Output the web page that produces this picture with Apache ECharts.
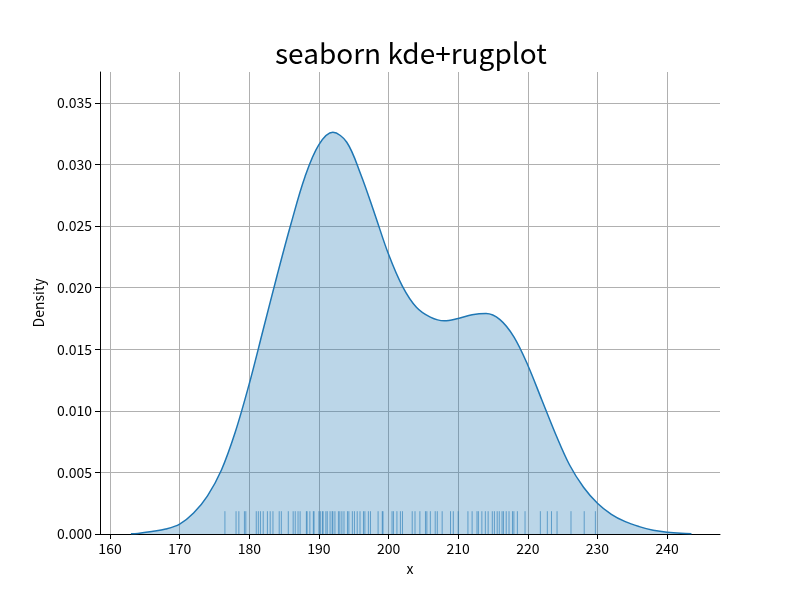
<!DOCTYPE html>
<html>
<head>
<meta charset="utf-8">
<title>seaborn kde+rugplot</title>
<script src="https://cdn.jsdelivr.net/npm/echarts@6/dist/echarts.min.js"></script>
<style>
  html, body { margin: 0; padding: 0; background: #fff; }
</style>
</head>
<body>
<div id="chart-container" style="width: 800px; height: 600px"></div>
<script>
// kde curve (every 2 units)
const kdeX = [163, 164, 166, 168, 170, 172, 174, 176, 178, 180, 182, 184, 186, 188,
  190, 192, 194, 196, 198, 200, 202, 204, 206, 208, 210, 212, 214, 216, 218, 220,
  222, 224, 226, 228, 230, 232, 234, 236, 238, 240, 242, 243.5];
const kdeY = [0.00003, 0.00005, 0.0002, 0.0004, 0.0008, 0.0017, 0.0031, 0.0052, 0.0083,
  0.0122, 0.0166, 0.0210, 0.0252, 0.0290, 0.0316, 0.0326, 0.0318, 0.0292, 0.0260,
  0.0227, 0.0201, 0.0184, 0.0176, 0.0173, 0.0175, 0.0178, 0.0179, 0.0174, 0.0160,
  0.0137, 0.0109, 0.0081, 0.0056, 0.0038, 0.0025, 0.0016, 0.0010, 0.0006, 0.0003,
  0.00015, 0.00006, 0.00003];

// rug observations
const rugX = [176.5, 178.1, 178.5, 179.3, 179.5, 181.0, 181.3, 181.6, 182.0, 182.6,
  183.0, 183.4, 184.3, 184.6, 185.6, 186.3, 186.6, 187.0, 187.3, 188.2, 188.3, 188.7,
  189.2, 189.3, 190.0, 190.2, 190.5, 190.6, 191.0, 191.2, 191.6, 191.9, 192.0, 192.3,
  192.8, 193.0, 193.3, 193.6, 194.1, 194.3, 194.8, 195.1, 195.5, 195.9, 196.4, 196.6,
  197.1, 197.4, 198.5, 199.1, 199.2, 200.5, 200.7, 201.2, 201.7, 202.0, 203.4, 203.8,
  204.5, 205.3, 205.5, 206.0, 206.7, 207.0, 207.7, 208.9, 209.3, 210.0, 211.4, 212.0,
  212.7, 212.9, 213.4, 213.9, 214.3, 214.9, 215.2, 215.6, 215.9, 216.3, 216.5, 216.9,
  217.3, 217.8, 218.0, 218.5, 219.6, 221.8, 222.8, 223.4, 224.2, 226.2, 228.1, 229.7];
const rugHeight = 0.00185;

const xTicks = [160, 170, 180, 190, 200, 210, 220, 230, 240];
const yTicks = [0, 0.005, 0.01, 0.015, 0.02, 0.025, 0.03, 0.035];

const blue = "#1f77b4";
const font = "Noto Sans CJK SC";

const myChart = echarts.init(document.getElementById("chart-container"));

const option = {
  animation: false,
  title: {
    text: "seaborn kde+rugplot",
    left: 270,
    top: 34,
    textStyle: { fontFamily: font, fontSize: 28, fontWeight: "normal", color: "#000" },
  },
  grid: { left: 100, right: 80, top: 72, bottom: 66 },
  xAxis: {
    type: "value",
    min: 158.56,
    max: 247.6,
    name: "x",
    nameLocation: "middle",
    nameGap: 28,
    nameTextStyle: { fontFamily: font, fontSize: 14, color: "#000" },
    axisLine: { onZero: false, lineStyle: { color: "#000", width: 1 } },
    axisTick: { length: 5, lineStyle: { color: "#000" }, customValues: xTicks },
    axisLabel: { fontFamily: font, fontSize: 14, color: "#000", margin: 8, customValues: xTicks },
    splitLine: { show: true, lineStyle: { color: "#b0b0b0", width: 1 } },
  },
  yAxis: {
    type: "value",
    min: 0,
    max: 0.0375,
    name: "Density",
    nameLocation: "middle",
    nameGap: 52,
    nameTextStyle: { fontFamily: font, fontSize: 14, color: "#000" },
    axisLine: { show: true, lineStyle: { color: "#000", width: 1 } },
    axisTick: { show: true, length: 5, lineStyle: { color: "#000" }, customValues: yTicks },
    axisLabel: {
      fontFamily: font, fontSize: 14, color: "#000", margin: 8,
      customValues: yTicks,
      formatter: (v) => v.toFixed(3),
    },
    splitLine: { show: true, lineStyle: { color: "#b0b0b0", width: 1 } },
  },
  series: [
    {
      name: "kde",
      type: "line",
      smooth: 0.35,
      symbol: "none",
      data: kdeX.map((x, i) => [x, kdeY[i]]),
      lineStyle: { color: blue, width: 1.5 },
      areaStyle: { color: blue, opacity: 0.3 },
      z: 2,
    },
    {
      name: "rug",
      type: "custom",
      data: rugX.map((x) => [x]),
      renderItem(params, api) {
        const p0 = api.coord([api.value(0), 0]);
        const p1 = api.coord([api.value(0), rugHeight]);
        return {
          type: "line",
          shape: { x1: p0[0], y1: p0[1], x2: p1[0], y2: p1[1] },
          style: { stroke: blue, lineWidth: 1, opacity: 0.6 },
        };
      },
      z: 3,
    },
  ],
};

myChart.setOption(option);
</script>
</body>
</html>
